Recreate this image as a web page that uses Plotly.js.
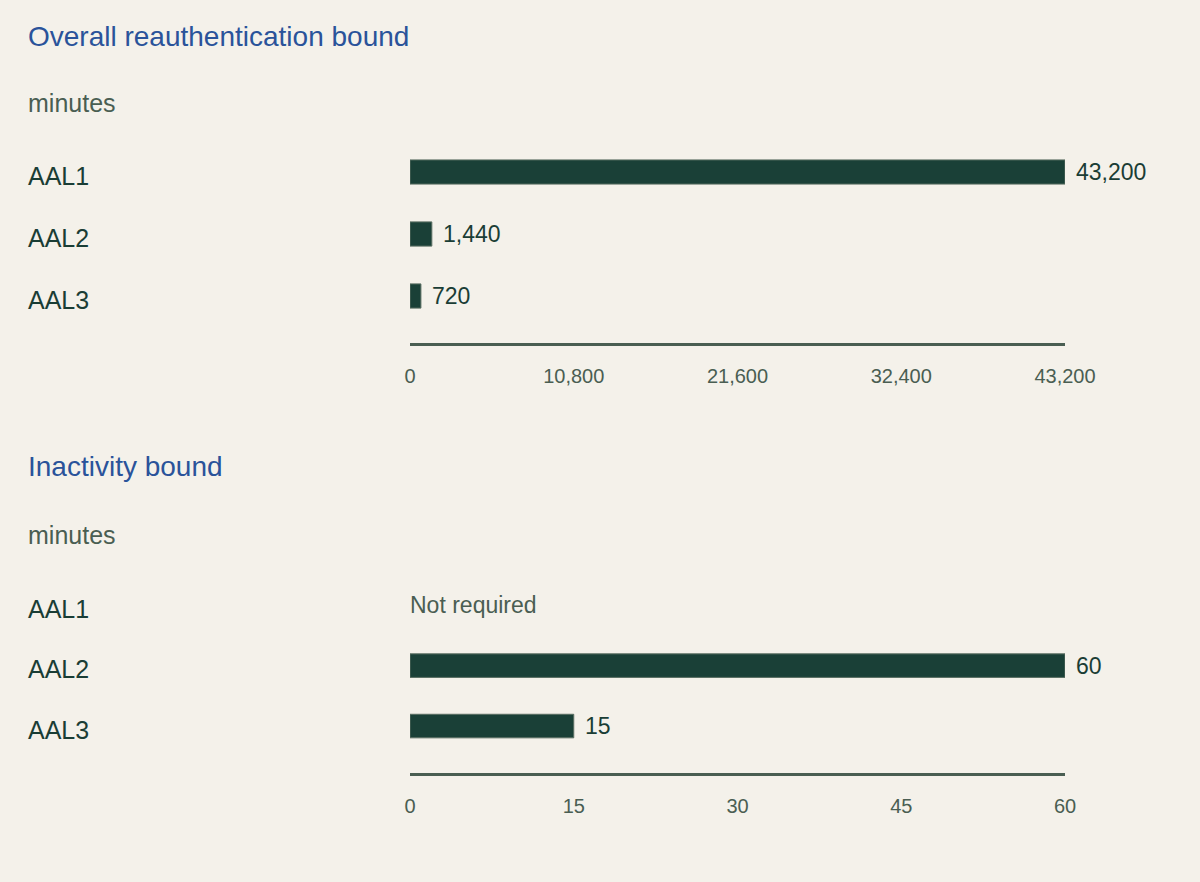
<!DOCTYPE html>
<html>
<head>
<meta charset="utf-8">
<script src="https://cdn.plot.ly/plotly-3.0.1.min.js"></script>
<style>html,body{margin:0;padding:0;background:#f4f1ea;}#chart{width:1200px;height:882px;}</style>
</head>
<body>
<div id="chart"></div>
<script>
var categories = ['AAL1', 'AAL2', 'AAL3'];
var reauthValues = [43200, 1440, 720];
var inactivityValues = [null, 60, 15];
var inactivityNotes = ['Not required', null, null];
var reauthTicks = [0, 10800, 21600, 32400, 43200];
var inactivityTicks = [0, 15, 30, 45, 60];
var titles = ['Overall reauthentication bound', 'Inactivity bound'];
var unitLabel = 'minutes';

var W = 1200, H = 882;
var FONT = 'Liberation Sans, Arial, sans-serif';
var barColor = '#1a4037';
var dark = '#1a3d35';
var muted = '#4a5e52';
var blue = '#2a539a';

function fmt(v){ return v.toLocaleString('en-US'); }

var traces = [
  {type:'bar', orientation:'h', y:categories, x:reauthValues, xaxis:'x', yaxis:'y',
   width:0.39, marker:{color:barColor, line:{color:'#5a6e62', width:1}}, hoverinfo:'skip'},
  {type:'bar', orientation:'h', y:categories, x:inactivityValues, xaxis:'x2', yaxis:'y2',
   width:0.39, marker:{color:barColor, line:{color:'#5a6e62', width:1}}, hoverinfo:'skip'}
];

var annotations = [];
function pY(px){ return 1 - px / H; }
var LX = 26 / W;
annotations.push({xref:'paper', yref:'paper', x:LX, y:pY(36), xanchor:'left', yanchor:'middle', text:titles[0], showarrow:false, font:{family:FONT, size:28, color:blue}});
annotations.push({xref:'paper', yref:'paper', x:LX, y:pY(103), xanchor:'left', yanchor:'middle', text:unitLabel, showarrow:false, font:{family:FONT, size:25, color:muted}});
annotations.push({xref:'paper', yref:'paper', x:LX, y:pY(467), xanchor:'left', yanchor:'middle', text:titles[1], showarrow:false, font:{family:FONT, size:28, color:blue}});
annotations.push({xref:'paper', yref:'paper', x:LX, y:pY(535), xanchor:'left', yanchor:'middle', text:unitLabel, showarrow:false, font:{family:FONT, size:25, color:muted}});

categories.forEach(function(c, i){
  annotations.push({xref:'paper', yref:'y', x:LX, y:c, xanchor:'left', yanchor:'middle', yshift:-4, text:c, showarrow:false, font:{family:FONT, size:25, color:dark}});
  annotations.push({xref:'paper', yref:'y2', x:LX, y:c, xanchor:'left', yanchor:'middle', yshift:-3.5, text:c, showarrow:false, font:{family:FONT, size:25, color:dark}});
  if (reauthValues[i] != null) {
    annotations.push({xref:'x', yref:'y', x:reauthValues[i], y:c, xanchor:'left', yanchor:'middle', xshift:9, text:fmt(reauthValues[i]), showarrow:false, font:{family:FONT, size:23, color:dark}});
  }
  if (inactivityValues[i] != null) {
    annotations.push({xref:'x2', yref:'y2', x:inactivityValues[i], y:c, xanchor:'left', yanchor:'middle', xshift:9, text:fmt(inactivityValues[i]), showarrow:false, font:{family:FONT, size:23, color:dark}});
  } else if (inactivityNotes[i]) {
    annotations.push({xref:'x2', yref:'y2', x:0, y:c, xanchor:'left', yanchor:'middle', xshift:-2, text:inactivityNotes[i], showarrow:false, font:{family:FONT, size:23, color:muted}});
  }
});

var xBase = {
  domain:[410/W, 1065/W], showgrid:false, zeroline:false, showline:true, linecolor:muted, linewidth:3,
  ticks:'outside', ticklen:13, tickcolor:'rgba(0,0,0,0)', tickfont:{family:FONT, size:20, color:muted},
  tickformat:',d', fixedrange:true
};
var layout = {
  width:W, height:H, margin:{l:0, r:0, t:0, b:0},
  paper_bgcolor:'#f4f1ea', plot_bgcolor:'#f4f1ea', showlegend:false, bargap:0,
  xaxis: Object.assign({}, xBase, {anchor:'y', range:[0, 43200], tickmode:'array', tickvals:reauthTicks, ticktext:reauthTicks.map(fmt)}),
  yaxis: {domain:[pY(343), pY(141)], anchor:'x', type:'category', range:[2.758, -0.5], showticklabels:false, showgrid:false, zeroline:false, showline:false, ticks:''},
  xaxis2: Object.assign({}, xBase, {anchor:'y2', range:[0, 60], tickmode:'array', tickvals:inactivityTicks, ticktext:inactivityTicks.map(fmt)}),
  yaxis2: {domain:[pY(773), pY(575)], anchor:'x2', type:'category', range:[2.777, -0.5], showticklabels:false, showgrid:false, zeroline:false, showline:false, ticks:''},
  annotations: annotations
};
Plotly.newPlot('chart', traces, layout, {displayModeBar:false, staticPlot:true});
</script>
</body>
</html>
